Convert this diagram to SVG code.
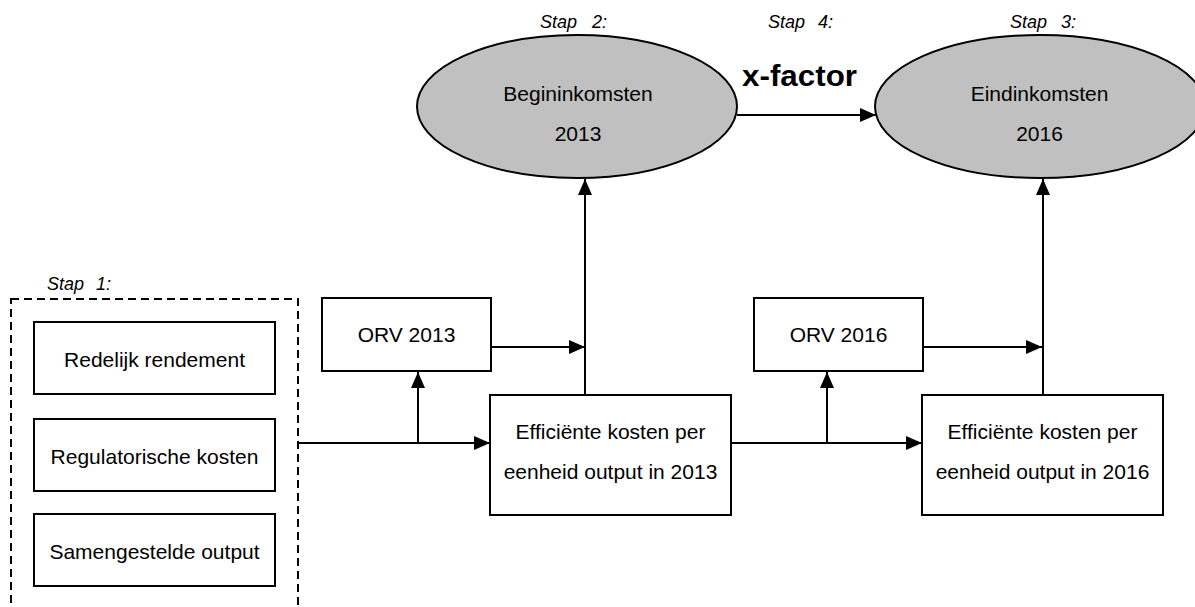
<svg xmlns="http://www.w3.org/2000/svg" width="1195" height="607" viewBox="0 0 1195 607">
<style>
  .box { fill: #ffffff; stroke: #000000; stroke-width: 2; }
  .ell { fill: #c0c0c0; stroke: #000000; stroke-width: 2; }
  .dash { fill: none; stroke: #000000; stroke-width: 2; stroke-dasharray: 8 5; }
  .t { font-family: "Liberation Sans", Arial, sans-serif; font-size: 21px; fill: #000000; text-anchor: middle; }
  .step { font-family: "Liberation Sans", Arial, sans-serif; font-size: 18px; font-style: italic; fill: #000000; }
  .xf { font-family: "Liberation Sans", Arial, sans-serif; font-size: 30px; font-weight: bold; fill: #000000; }
  .c { fill: none; stroke: #000000; stroke-width: 2; }
</style>
<defs>
  <marker id="arr" markerWidth="16" markerHeight="14" refX="16" refY="7" orient="auto" markerUnits="userSpaceOnUse">
    <path d="M0,0 L16,7 L0,14 Z" fill="#000000"/>
  </marker>
</defs>

<g id="labels">
  <text class="step" x="47" y="290">Stap<tspan x="96">1:</tspan></text>
  <text class="step" x="540" y="28">Stap<tspan x="592">2:</tspan></text>
  <text class="step" x="768" y="28">Stap<tspan x="818">4:</tspan></text>
  <text class="step" x="1010" y="28">Stap<tspan x="1061">3:</tspan></text>
  <text class="xf" x="742" y="86" textLength="115" lengthAdjust="spacingAndGlyphs">x-factor</text>
</g>

<g id="stap1-group">
  <rect class="dash" x="11" y="299" width="287" height="320"/>
</g>

<g id="redelijk">
  <rect class="box" x="34" y="322" width="241" height="72"/>
  <text class="t" x="154.5" y="367">Redelijk rendement</text>
</g>
<g id="regulatorisch">
  <rect class="box" x="34" y="419" width="241" height="72"/>
  <text class="t" x="154.5" y="464">Regulatorische kosten</text>
</g>
<g id="samengesteld">
  <rect class="box" x="34" y="514" width="241" height="72"/>
  <text class="t" x="154.5" y="559">Samengestelde output</text>
</g>

<g id="orv2013">
  <rect class="box" x="322" y="298" width="169" height="73"/>
  <text class="t" x="406.5" y="342">ORV 2013</text>
</g>
<g id="eff2013">
  <rect class="box" x="490" y="395" width="241" height="120"/>
  <text class="t" x="610.5" y="439">Efficiënte kosten per</text>
  <text class="t" x="610.5" y="479">eenheid output in 2013</text>
</g>
<g id="orv2016">
  <rect class="box" x="754" y="298" width="169" height="73"/>
  <text class="t" x="838.5" y="342">ORV 2016</text>
</g>
<g id="eff2016">
  <rect class="box" x="922" y="395" width="241" height="120"/>
  <text class="t" x="1042.5" y="439">Efficiënte kosten per</text>
  <text class="t" x="1042.5" y="479">eenheid output in 2016</text>
</g>

<g id="begin2013">
  <ellipse class="ell" cx="577" cy="106.5" rx="160" ry="71.5"/>
  <text class="t" x="578" y="101">Begininkomsten</text>
  <text class="t" x="578" y="141">2013</text>
</g>
<g id="eind2016">
  <ellipse class="ell" cx="1040" cy="106.5" rx="165" ry="71.5"/>
  <text class="t" x="1039.5" y="101">Eindinkomsten</text>
  <text class="t" x="1039.5" y="141">2016</text>
</g>

<g id="connectors">
  <line class="c" x1="298" y1="443" x2="490" y2="443" marker-end="url(#arr)"/>
  <line class="c" x1="418" y1="443" x2="418" y2="372" marker-end="url(#arr)"/>
  <line class="c" x1="491" y1="347" x2="585" y2="347" marker-end="url(#arr)"/>
  <line class="c" x1="585" y1="395" x2="585" y2="179" marker-end="url(#arr)"/>
  <line class="c" x1="731" y1="443" x2="922" y2="443" marker-end="url(#arr)"/>
  <line class="c" x1="827" y1="443" x2="827" y2="372" marker-end="url(#arr)"/>
  <line class="c" x1="923" y1="347" x2="1042" y2="347" marker-end="url(#arr)"/>
  <line class="c" x1="1043" y1="395" x2="1043" y2="179" marker-end="url(#arr)"/>
  <line class="c" x1="737" y1="115" x2="876" y2="115" marker-end="url(#arr)"/>
</g>
</svg>
